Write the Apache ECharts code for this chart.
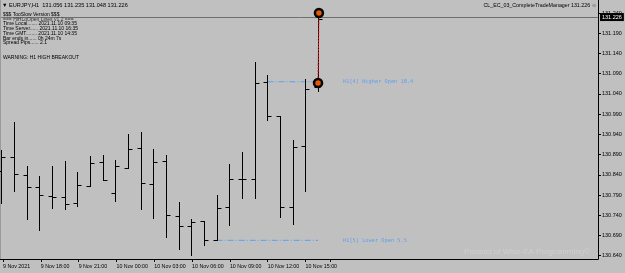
<!DOCTYPE html>
<html><head><meta charset="utf-8">
<script src="https://cdn.jsdelivr.net/npm/echarts@6/dist/echarts.min.js"></script>
<style>html,body{margin:0;padding:0;background:#c0c0c0}#c{width:625px;height:273px}</style>
</head><body><div id="c"></div>
<script>
// ---- data (EURJPY H1) ----
const barIndex = [0,1,2,3,4,5,6,7,8,9,10,11,12,13,14,15,16,17,18,19,20,21,22,23,24,25];
const opens  = [130.850,130.883,130.840,130.810,130.788,130.784,130.771,130.813,130.871,130.794,130.858,130.906,130.817,130.874,130.738,130.713,130.725,130.678,130.760,130.830,130.830,131.070,130.986,130.760,130.910,131.056];
const highs  = [130.901,130.971,130.862,130.838,130.862,130.874,130.846,130.886,130.889,130.877,130.940,130.945,130.904,130.889,130.772,130.730,130.725,130.790,130.867,130.896,131.119,131.086,130.986,130.925,131.076,131.235];
const lows   = [130.770,130.801,130.730,130.704,130.757,130.756,130.764,130.812,130.826,130.776,130.856,130.755,130.734,130.685,130.657,130.642,130.667,130.678,130.715,130.782,130.783,130.976,130.735,130.718,130.801,131.048];
const closes = [130.883,130.841,130.810,130.789,130.786,130.768,130.815,130.869,130.826,130.861,130.904,130.820,130.872,130.741,130.713,130.723,130.678,130.759,130.830,130.830,131.066,130.986,130.760,130.908,131.053,131.226];
const timeLabels = ['9 Nov 2021','9 Nov 18:00','9 Nov 21:00','10 Nov 00:00','10 Nov 03:00','10 Nov 06:00','10 Nov 09:00','10 Nov 12:00','10 Nov 15:00'];
const yMin = 130.64, yMax = 131.24, yStep = 0.05;
const bidPrice = 131.226;
const higherOpen = 131.070, higherOpenFrom = 21, higherOpenText = 'H1[4] Higher Open 18.4';
const lowerOpen = 130.678, lowerOpenFrom = 17, lowerOpenText = 'H1[5] Lower Open 5.5';
const tradeTop = 131.240, tradeBottom = 131.067, tradeIdx = 25;
const infoLines = ['$$$ TooSlow Version $$$','=== HiHLoOpen Lines v1.2 ===','Time Local....... 2021.11.10 09:35','Time Server...... 2021.11.10 16:35','Time GMT........ 2021.11.10 14:35','Bar ends in...... 0h 24m 7s','Spread Pips...... 2.1'];
const headerText = '\u25BC EURJPY,H1  131.056 131.235 131.048 131.226';
const warningText = 'WARNING: H1 HIGH BREAKOUT';
const eaText = 'CL_EC_03_CompleteTradeManager 131.226 \u263A';
const watermark = 'Product of Wise-EA Programming\u00A9';

const ohlc = barIndex.map((x,i)=>[x,opens[i],highs[i],lows[i],closes[i]]);
const FONT = 'Liberation Sans';
const chart = echarts.init(document.getElementById('c'), null, {renderer:'canvas'});
const xMaxVal = (598-1.3)/12.67;

chart.setOption({
  backgroundColor:'#c0c0c0',
  animation:false,
  grid:[
    {left:1.3, right:27, top:13, bottom:17.3},
    {left:0, right:27, top:0, bottom:14},
    {left:1.3, width:26*12.67, top:0, bottom:14}
  ],
  xAxis:[
    {gridIndex:0, type:'value', min:0, max:xMaxVal, show:false, axisLine:{onZero:false}},
    {gridIndex:1, type:'value', min:0, max:1, axisLine:{show:true,onZero:false,lineStyle:{color:'#000',width:1}}, axisTick:{show:false}, axisLabel:{show:false}, splitLine:{show:false}},
    {gridIndex:2, type:'value', min:0, max:26, interval:3, axisLine:{show:false,onZero:false},
      axisTick:{show:true, length:3, lineStyle:{color:'#000'}},
      axisLabel:{show:true, align:'left', margin:5, fontSize:5.3, fontFamily:FONT, color:'#000',
        formatter:v=>{const k=Math.round(v/3); return (k<timeLabels.length)?timeLabels[k]:'';}},
      splitLine:{show:false}}
  ],
  yAxis:[
    {gridIndex:0, type:'value', position:'right', min:yMin, max:yMax, interval:yStep,
      axisLine:{show:false,onZero:false}, axisTick:{show:true, length:3, lineStyle:{color:'#000'}},
      axisLabel:{margin:4, fontSize:5.5, fontFamily:FONT, color:'#000', formatter:v=>v.toFixed(3)},
      splitLine:{show:false}},
    {gridIndex:1, type:'value', position:'right', min:0, max:1,
      axisLine:{show:true, onZero:false, lineStyle:{color:'#000',width:1}}, axisTick:{show:false}, axisLabel:{show:false}, splitLine:{show:false}},
    {gridIndex:2, type:'value', show:false, axisLine:{show:false,onZero:false}, axisTick:{show:false}, axisLabel:{show:false}, splitLine:{show:false}}
  ],
  series:[
    {type:'custom', xAxisIndex:0, yAxisIndex:0, data:ohlc, z:5,
      renderItem:(params, api)=>{
        const x = api.value(0);
        const o = api.coord([x, api.value(1)]);
        const h = api.coord([x, api.value(2)]);
        const l = api.coord([x, api.value(3)]);
        const c = api.coord([x, api.value(4)]);
        const px = Math.round(o[0]) + 0.5;
        const oy = Math.round(o[1]) + 0.5, cy = Math.round(c[1]) + 0.5;
        const st = {stroke:'#000', lineWidth:1};
        return {type:'group', children:[
          {type:'line', shape:{x1:px, y1:Math.round(h[1]), x2:px, y2:Math.round(l[1])+1}, style:st},
          {type:'line', shape:{x1:px-4, y1:oy, x2:px, y2:oy}, style:st},
          {type:'line', shape:{x1:px, y1:cy, x2:px+4, y2:cy}, style:st}
        ]};
      }},
    {type:'line', xAxisIndex:0, yAxisIndex:0, data:[[higherOpenFrom,higherOpen],[tradeIdx,higherOpen]],
      symbol:'none', lineStyle:{color:'#5d9ff0', width:1, type:[6,2,1,2]}, z:3,
      markLine:{silent:true, symbol:'none', data:[{yAxis:bidPrice}],
        lineStyle:{color:'#6f6f6f', width:1, type:'solid'},
        label:{show:true, position:'end', distance:2, formatter:bidPrice.toFixed(3), color:'#fff', backgroundColor:'#000', padding:[1,2,1,2], fontSize:5.5, fontFamily:FONT}}},
    {type:'line', xAxisIndex:0, yAxisIndex:0, data:[[lowerOpenFrom,lowerOpen],[tradeIdx,lowerOpen]],
      symbol:'none', lineStyle:{color:'#5d9ff0', width:1, type:[6,2,1,2]}, z:3},
    {type:'line', xAxisIndex:0, yAxisIndex:0, data:[[tradeIdx+0.07,tradeTop],[tradeIdx,tradeBottom]],
      symbol:'circle', symbolSize:8, showSymbol:true,
      itemStyle:{color:'#e85a00', borderColor:'#000', borderWidth:2.5},
      lineStyle:{color:'#e00000', width:1, type:[2,1]}, z:10}
  ]
});

const hp = chart.convertToPixel({gridIndex:0}, [tradeIdx, higherOpen]);
const lp = chart.convertToPixel({gridIndex:0}, [tradeIdx, lowerOpen]);
const infoY = [15,19.5,24,29,34,38.7,43];
const g = [];
g.push({type:'line', shape:{x1:0.5,y1:0,x2:0.5,y2:259}, style:{stroke:'#9a9a9a', lineWidth:1}});
g.push({type:'text', x:2, y:5, style:{text:headerText, fill:'#000', fontSize:5.6, fontFamily:FONT, textVerticalAlign:'middle'}});
infoLines.forEach((t,i)=>g.push({type:'text', x:3, y:infoY[i], z:20, style:{text:t, fill: i===1?'#333':'#000', fontSize:5, fontFamily:FONT, textVerticalAlign:'middle'}}));
g.push({type:'text', x:3, y:57.5, style:{text:warningText, fill:'#000', fontSize:5, fontFamily:FONT, textVerticalAlign:'middle'}});
g.push({type:'text', x:597, y:6, style:{text:eaText, fill:'#000', fontSize:5.3, fontFamily:FONT, textAlign:'right', textVerticalAlign:'middle'}});
g.push({type:'text', x:hp[0]+25, y:hp[1], style:{text:higherOpenText, fill:'#5d9ff0', fontSize:5.3, fontFamily:'DejaVu Sans Mono', textVerticalAlign:'middle'}});
g.push({type:'text', x:lp[0]+25, y:lp[1], style:{text:lowerOpenText, fill:'#5d9ff0', fontSize:5.3, fontFamily:'DejaVu Sans Mono', textVerticalAlign:'middle'}});
g.push({type:'text', x:590, y:252, style:{text:watermark, fill:'rgba(255,255,255,0.22)', fontSize:8, fontFamily:FONT, textAlign:'right', textVerticalAlign:'middle'}});
chart.setOption({graphic:g});
</script></body></html>
